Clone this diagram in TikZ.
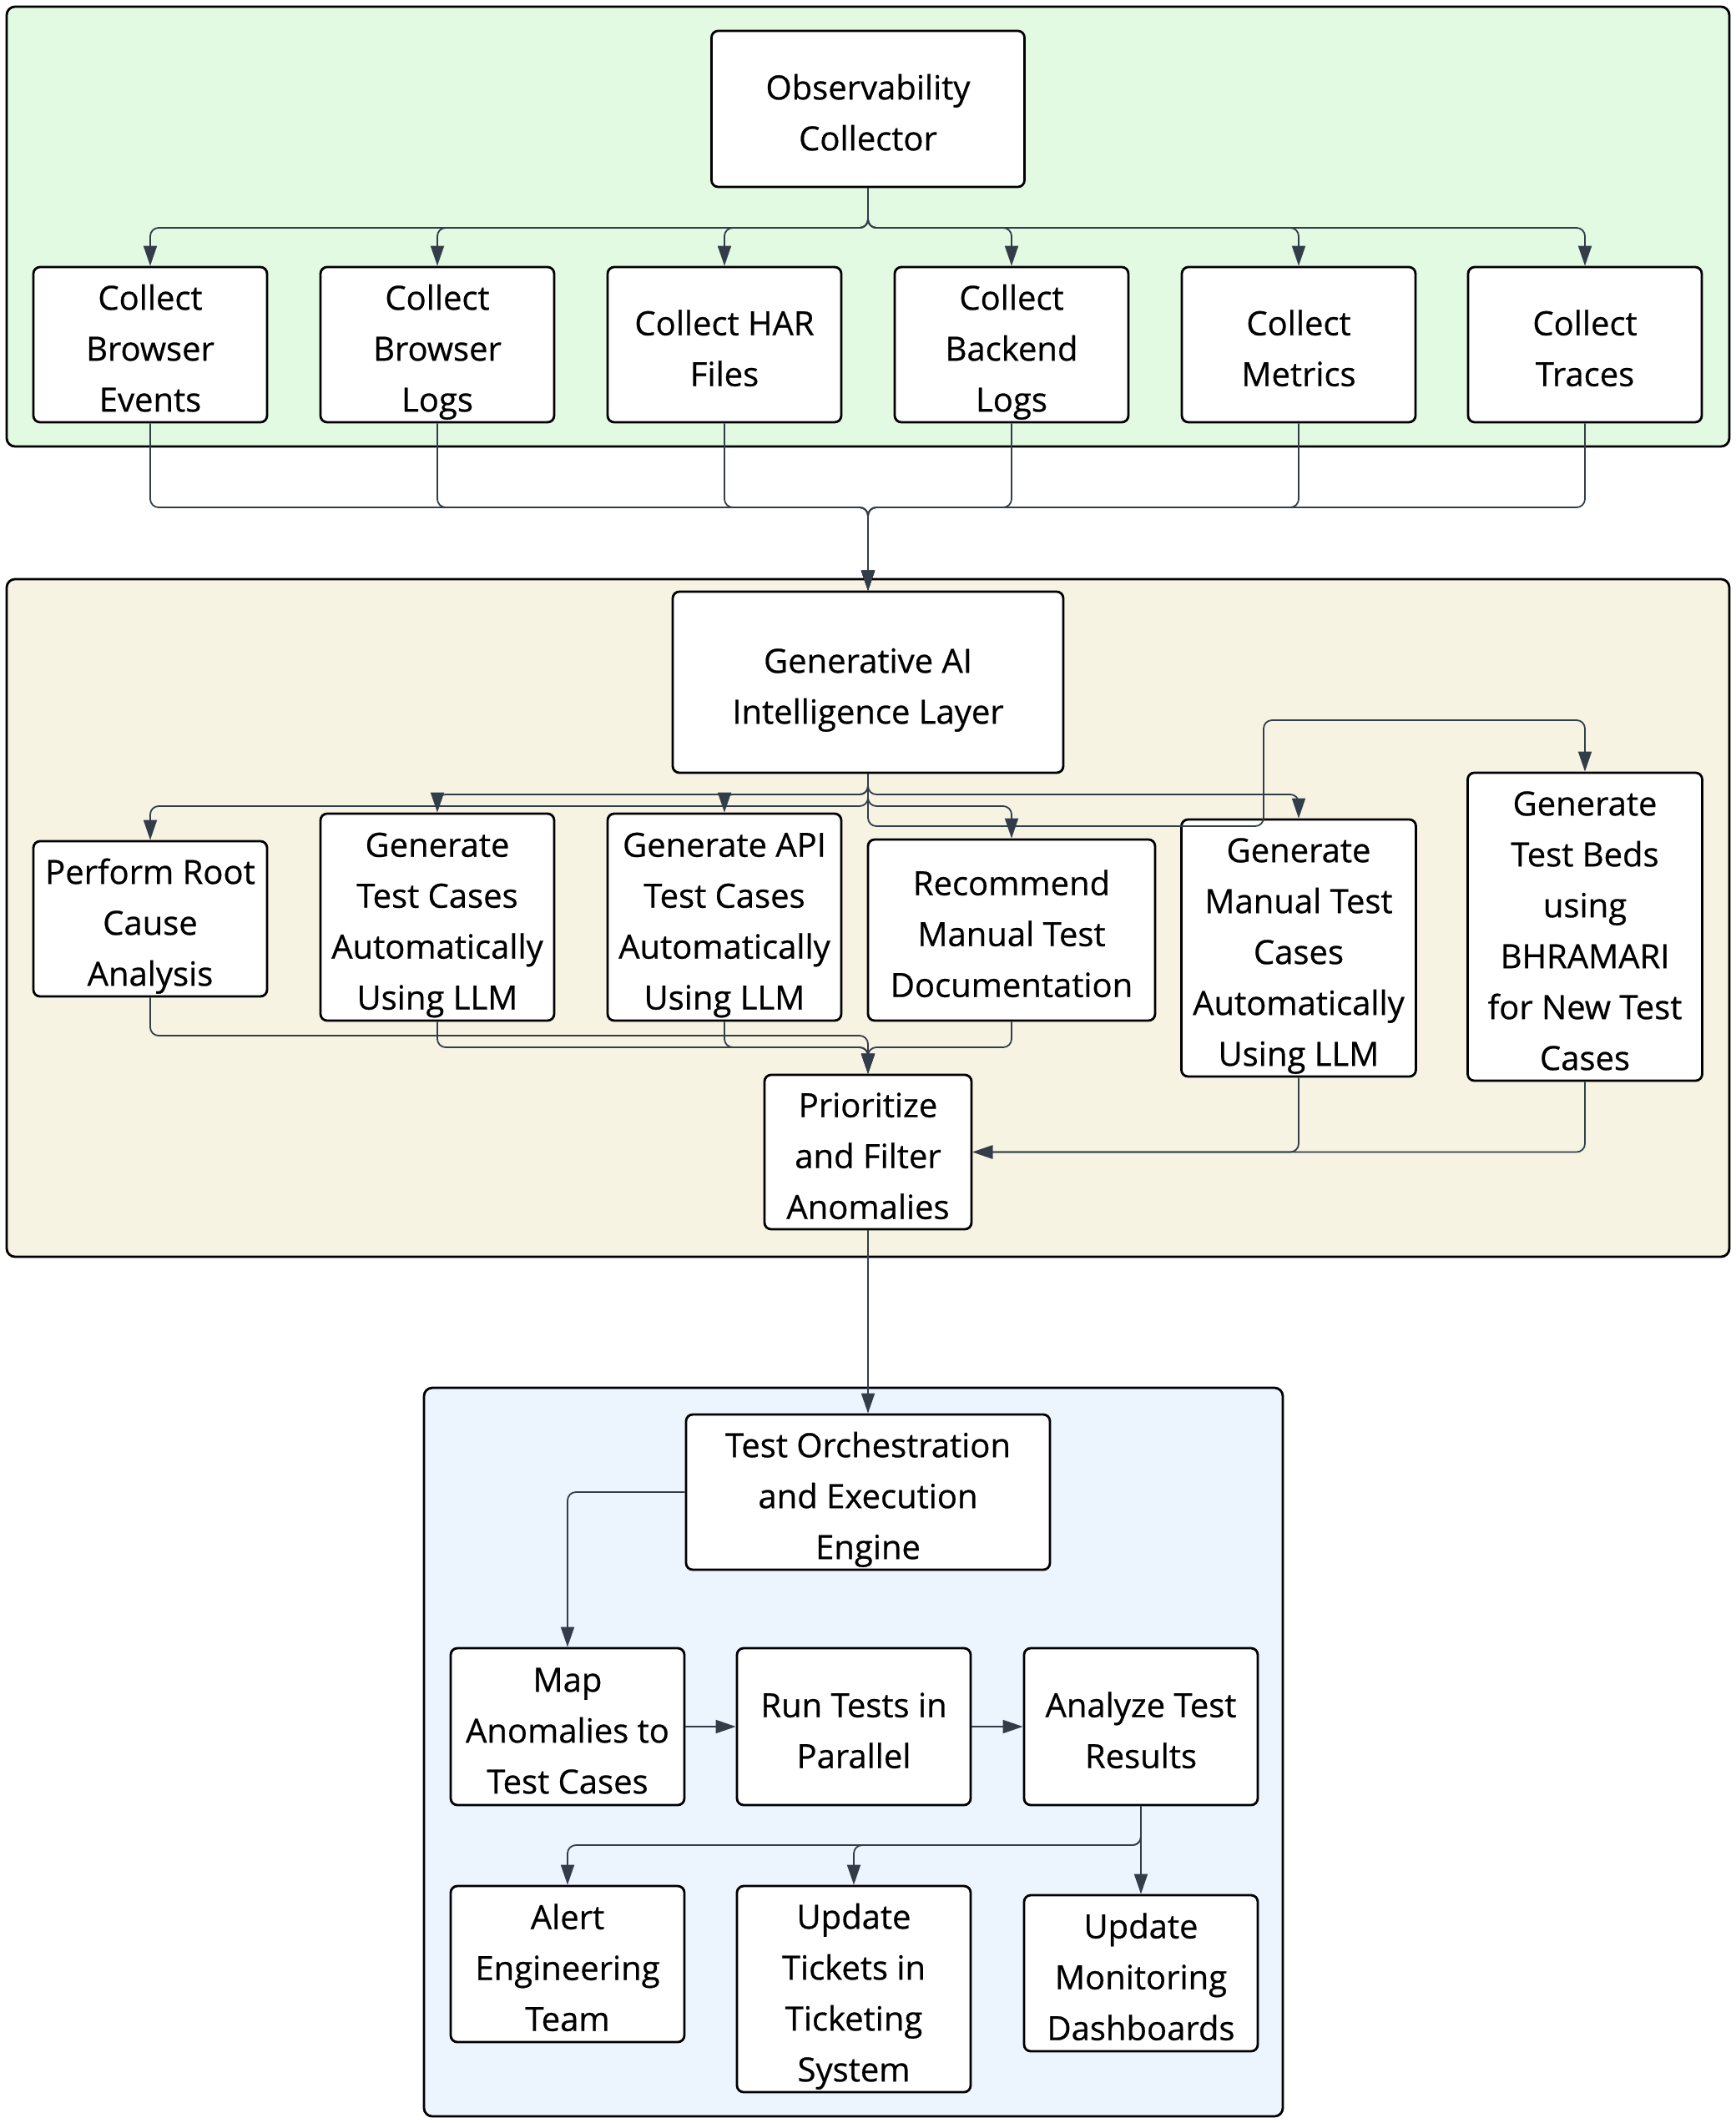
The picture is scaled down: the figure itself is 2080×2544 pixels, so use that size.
\documentclass[tikz,border=0pt]{standalone}
\usepackage{fontspec}
\setmainfont{Open Sans}[FakeBold=0.6]
\usetikzlibrary{arrows.meta}
\definecolor{edgecol}{HTML}{333D4A}
\definecolor{greenbg}{HTML}{E2F9E2}
\definecolor{beigebg}{HTML}{F6F3E3}
\definecolor{bluebg}{HTML}{ECF4FE}
\newcommand\bxt[1]{\raisebox{0pt}[\height][\dimexpr\depth-7pt\relax]{\begin{tabular}{@{}c@{}}#1\end{tabular}}}
\tikzset{
  box/.style={draw=black, rounded corners=4pt, fill=white, line width=1.4pt, inner sep=0pt,
    font=\fontsize{20}{30.5}\selectfont},
  cluster/.style={draw=black, rounded corners=5pt, line width=1.4pt},
  conn/.style={draw=edgecol, line width=0.9pt, rounded corners=5pt, -{Triangle[length=12pt,width=8pt]}}
}
\begin{document}
\begin{tikzpicture}[x=0.5pt,y=-0.5pt]
\useasboundingbox (0,0) rectangle (2080,2544);
% clusters
\draw[cluster, fill=greenbg] (8,8) rectangle (2072,535);
\draw[cluster, fill=beigebg] (8,694) rectangle (2072,1506);
\draw[cluster, fill=bluebg] (508,1663) rectangle (1537,2536);

\node[box, minimum width=187.5pt, minimum height=93.5pt] (obs) at (1040,130.5) {\bxt{Observability\\Collector}};
\node[box, minimum width=140pt, minimum height=93pt] (c1) at (180,413) {\bxt{Collect\\Browser\\Events}};
\node[box, minimum width=140pt, minimum height=93pt] (c2) at (524,413) {\bxt{Collect\\Browser\\Logs}};
\node[box, minimum width=140pt, minimum height=93pt] (c3) at (868,413) {\bxt{Collect HAR\\Files}};
\node[box, minimum width=140pt, minimum height=93pt] (c4) at (1212,413) {\bxt{Collect\\Backend\\Logs}};
\node[box, minimum width=140pt, minimum height=93pt] (c5) at (1556,413) {\bxt{Collect\\Metrics}};
\node[box, minimum width=140pt, minimum height=93pt] (c6) at (1899,413) {\bxt{Collect\\Traces}};

\node[box, minimum width=234pt, minimum height=108.5pt] (genai) at (1040,817.5) {\bxt{Generative AI\\Intelligence Layer}};
\node[box, minimum width=140pt, minimum height=93pt] (rca) at (180,1101) {\bxt{Perform Root\\Cause\\Analysis}};
\node[box, minimum width=140pt, minimum height=124pt] (gtc) at (524,1099) {\bxt{Generate\\Test Cases\\Automatically\\Using LLM}};
\node[box, minimum width=140pt, minimum height=124pt] (gapi) at (868,1099) {\bxt{Generate API\\Test Cases\\Automatically\\Using LLM}};
\node[box, minimum width=172pt, minimum height=108.5pt] (rec) at (1212,1114.5) {\bxt{Recommend\\Manual Test\\Documentation}};
\node[box, minimum width=140.5pt, minimum height=154pt] (gman) at (1556,1136) {\bxt{Generate\\Manual Test\\Cases\\Automatically\\Using LLM}};
\node[box, minimum width=140.5pt, minimum height=184.5pt] (gbeds) at (1899,1110.5) {\bxt{Generate\\Test Beds\\using\\BHRAMARI\\for New Test\\Cases}};
\node[box, minimum width=124pt, minimum height=92.5pt] (prio) at (1040,1380.5) {\bxt{Prioritize\\and Filter\\Anomalies}};

\node[box, minimum width=218pt, minimum height=93pt] (orch) at (1040,1788) {\bxt{Test Orchestration\\and Execution\\Engine}};
\node[box, minimum width=140pt, minimum height=94pt] (map) at (680,2069) {\bxt{Map\\Anomalies to\\Test Cases}};
\node[box, minimum width=140pt, minimum height=94pt] (run) at (1023,2069) {\bxt{Run Tests in\\Parallel}};
\node[box, minimum width=140pt, minimum height=94pt] (ana) at (1367,2069) {\bxt{Analyze Test\\Results}};
\node[box, minimum width=140pt, minimum height=93.5pt] (alert) at (680,2353.5) {\bxt{Alert\\Engineering\\Team}};
\node[box, minimum width=140pt, minimum height=123.5pt] (tick) at (1023,2383.5) {\bxt{Update\\Tickets in\\Ticketing\\System}};
\node[box, minimum width=140pt, minimum height=93.5pt] (mon) at (1367,2364.5) {\bxt{Update\\Monitoring\\Dashboards}};

% collector fan-out
\foreach \n in {c1,c2,c3,c4,c5,c6}{
  \draw[conn] (obs.south) -- (obs.south |- 0,273) -| (\n.north);
}
% collectors into GenAI
\foreach \n in {c1,c2,c3,c4,c5,c6}{
  \draw[conn] (\n.south) |- (genai.north |- 0,608) -- (genai.north);
}
% GenAI fan-out
\draw[conn] (genai.south) -- (genai.south |- 0,952) -| (gtc.north);
\draw[conn] (genai.south) -- (genai.south |- 0,952) -| (gapi.north);
\draw[conn] (genai.south) -- (genai.south |- 0,952) -| (gman.north);
\draw[conn] (genai.south) -- (genai.south |- 0,966) -| (rca.north);
\draw[conn] (genai.south) -- (genai.south |- 0,966) -| (rec.north);
\draw[conn] (genai.south) -- (genai.south |- 0,990) -- (1514,990) -- (1514,863) -| (gbeds.north);
% into prioritize
\draw[conn] (rca.south) |- (prio.north |- 0,1241) -- (prio.north);
\draw[conn] (gtc.south) |- (prio.north |- 0,1255) -- (prio.north);
\draw[conn] (gapi.south) |- (prio.north |- 0,1255) -- (prio.north);
\draw[conn] (rec.south) |- (prio.north |- 0,1255) -- (prio.north);
\draw[conn] (gman.south) |- (prio.east);
\draw[conn] (gbeds.south) |- (prio.east);
% to orchestration
\draw[conn] (prio.south) -- (orch.north);
\draw[conn] (orch.west) -| (map.north);
\draw[conn] (map.east) -- (run.west);
\draw[conn] (run.east) -- (ana.west);
\draw[conn] (ana.south) -- (ana.south |- 0,2211) -| (alert.north);
\draw[conn] (ana.south) -- (ana.south |- 0,2211) -| (tick.north);
\draw[conn] (ana.south) -- (mon.north);
\end{tikzpicture}
\end{document}
